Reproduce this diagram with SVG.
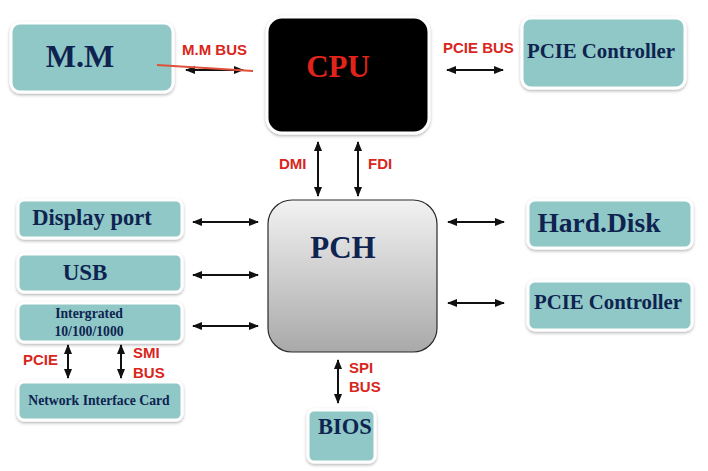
<svg xmlns="http://www.w3.org/2000/svg" width="708" height="471" viewBox="0 0 708 471">
<defs>
<style>
.box{fill:#8fc8c7;stroke:#ffffff;stroke-width:3}
.t{font-family:"Liberation Serif","Times New Roman",serif;font-weight:bold;fill:#0e2350;text-anchor:middle}
.lab{font-family:"Liberation Sans",Arial,sans-serif;font-weight:bold;fill:#d8261c;font-size:15px}
.con{stroke:#111;stroke-width:2;fill:none;marker-start:url(#ah);marker-end:url(#ah)}
</style>
<marker id="ah" viewBox="0 0 10 10" refX="9" refY="5" markerWidth="5" markerHeight="5" orient="auto-start-reverse" markerUnits="strokeWidth">
<path d="M0,1 L10,5 L0,9 Z" fill="#111"/>
</marker>
<filter id="sh" x="-10%" y="-10%" width="120%" height="130%">
<feDropShadow dx="0" dy="1.5" stdDeviation="1.8" flood-color="#000" flood-opacity="0.3"/>
</filter>
<linearGradient id="pg" x1="0" y1="0" x2="0" y2="1">
<stop offset="0" stop-color="#f2f2f2"/>
<stop offset="1" stop-color="#a9a9a9"/>
</linearGradient>
</defs>
<rect width="708" height="471" fill="#ffffff"/>

<g id="mm"><rect class="box" x="11" y="23" width="162" height="69" rx="9" filter="url(#sh)"/><text class="t" x="80" y="67" font-size="32">M.M</text></g>
<g id="cpu"><rect x="267" y="17" width="162" height="116" rx="15" fill="#000" stroke="#fff" stroke-width="3" filter="url(#sh)"/><text class="t" x="338" y="77" font-size="31" style="fill:#e2231a">CPU</text></g>
<g id="pcie-top"><rect class="box" x="522" y="18" width="163" height="70" rx="9" filter="url(#sh)"/><text class="t" x="601" y="58" font-size="20.8">PCIE Controller</text></g>
<g id="pch"><rect x="268" y="200" width="169" height="152" rx="24" fill="url(#pg)" stroke="#2a2a2a" stroke-width="1.2"/><text class="t" x="343" y="258" font-size="31">PCH</text></g>
<g id="display"><rect class="box" x="18" y="200" width="164" height="38" rx="6" filter="url(#sh)"/><text class="t" x="92" y="225" font-size="22.5">Display port</text></g>
<g id="usb"><rect class="box" x="18" y="254" width="164" height="38" rx="6" filter="url(#sh)"/><text class="t" x="85" y="280" font-size="23">USB</text></g>
<g id="integrated"><rect class="box" x="18" y="303" width="164" height="39" rx="6" filter="url(#sh)"/><text class="t" x="89" y="318" font-size="13.7">Intergrated</text><text class="t" x="89" y="336" font-size="13.7">10/100/1000</text></g>
<g id="nic"><rect class="box" x="18" y="382" width="164" height="38" rx="6" filter="url(#sh)"/><text class="t" x="99" y="405" font-size="13.7">Network Interface Card</text></g>
<g id="harddisk"><rect class="box" x="528" y="200" width="164" height="48" rx="7" filter="url(#sh)"/><text class="t" x="599" y="232" font-size="27.5">Hard.Disk</text></g>
<g id="pcie-right"><rect class="box" x="528" y="281" width="164" height="49" rx="7" filter="url(#sh)"/><text class="t" x="608" y="309" font-size="20.8">PCIE Controller</text></g>
<g id="bios"><rect class="box" x="308" y="410" width="67" height="52" rx="6" filter="url(#sh)"/><text class="t" x="345" y="434" font-size="22.5">BIOS</text></g>

<g id="connectors">
<line class="con" x1="186" y1="70" x2="243" y2="70"/>
<line x1="157" y1="65" x2="253" y2="71" stroke="#e0503a" stroke-width="1.8"/>
<line class="con" x1="447" y1="70" x2="503" y2="70"/>
<line class="con" x1="318" y1="142" x2="318" y2="196"/>
<line class="con" x1="358" y1="142" x2="358" y2="196"/>
<line class="con" x1="193" y1="222" x2="258" y2="222"/>
<line class="con" x1="193" y1="275" x2="258" y2="275"/>
<line class="con" x1="193" y1="326" x2="258" y2="326"/>
<line class="con" x1="448" y1="222" x2="504" y2="222"/>
<line class="con" x1="448" y1="303" x2="504" y2="303"/>
<line class="con" x1="68" y1="345" x2="68" y2="378"/>
<line class="con" x1="121" y1="345" x2="121" y2="378"/>
<line class="con" x1="338" y1="360" x2="338" y2="403"/>
<text class="lab" x="182" y="55">M.M BUS</text>
<text class="lab" x="443" y="53">PCIE BUS</text>
<text class="lab" x="279" y="169">DMI</text>
<text class="lab" x="368" y="169">FDI</text>
<text class="lab" x="23" y="365">PCIE</text>
<text class="lab" x="133" y="358">SMI</text>
<text class="lab" x="133" y="378">BUS</text>
<text class="lab" x="349" y="373">SPI</text>
<text class="lab" x="349" y="392">BUS</text>
</g>
</svg>
